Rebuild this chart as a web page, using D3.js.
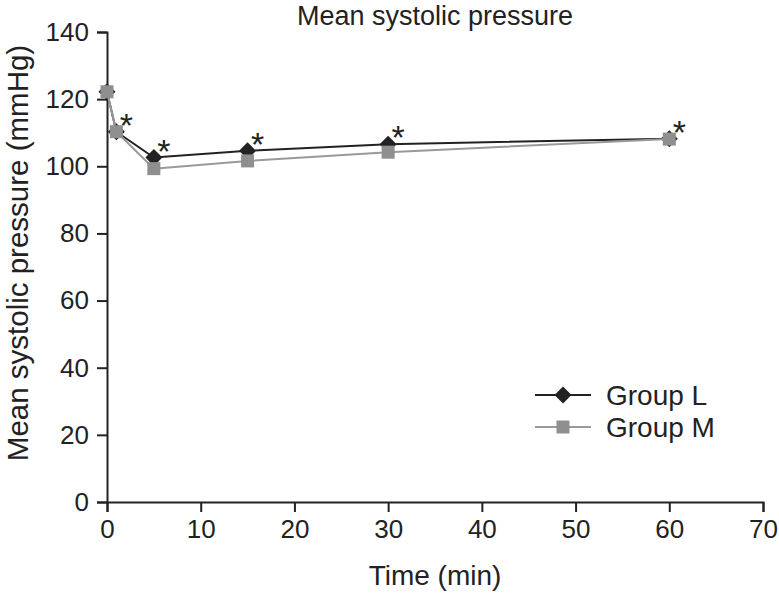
<!DOCTYPE html>
<html><head><meta charset="utf-8">
<script src="https://cdn.jsdelivr.net/npm/d3@7"></script>
<style>body{margin:0;background:#fff}text{font-family:"Liberation Sans",Arial,sans-serif;fill:#222}</style>
</head><body><svg id="c" width="779" height="594"></svg>
<script>
const times = [0, 1, 5, 15, 30, 60];
const groupL = [122.2, 110.3, 102.6, 104.6, 106.6, 108.2];
const groupM = [122.2, 110.3, 99.3, 101.6, 104.2, 108.1];
const starred = [1, 5, 15, 30, 60];
const xTicks = [0, 10, 20, 30, 40, 50, 60, 70];
const yTicks = [0, 20, 40, 60, 80, 100, 120, 140];
const seriesNames = ["Group L", "Group M"];

const svg = d3.select("#c");
const x = d3.scaleLinear().domain([0, 70]).range([107, 763]);
const y = d3.scaleLinear().domain([0, 140]).range([502, 32]);
const colL = "#222", colM = "#999";

// axes
const xa = svg.append("g").attr("transform", "translate(0,502)")
  .call(d3.axisBottom(x).tickValues(xTicks).tickSize(10).tickPadding(8).tickFormat(d3.format("d")));
const ya = svg.append("g").attr("transform", "translate(107,0)")
  .call(d3.axisLeft(y).tickValues(yTicks).tickSize(10).tickPadding(8).tickFormat(d3.format("d")));
[xa, ya].forEach(a => {
  a.select(".domain").attr("stroke", "#222").attr("stroke-width", 2);
  a.selectAll(".tick line").attr("stroke", "#222").attr("stroke-width", 2);
  a.selectAll(".tick text").attr("font-size", 26).attr("fill", "#222")
    .attr("font-family", '"Liberation Sans",Arial,sans-serif');
});

// title & labels
svg.append("text").attr("x", 435).attr("y", 25).attr("text-anchor", "middle")
  .attr("font-size", 27).text("Mean systolic pressure");
svg.append("text").attr("x", 435).attr("y", 585).attr("text-anchor", "middle")
  .attr("font-size", 28).text("Time (min)");
svg.append("text").attr("transform", "translate(28,253) rotate(-90)").attr("text-anchor", "middle")
  .attr("font-size", 29.5).text("Mean systolic pressure (mmHg)");

const line = d3.line().x(d => x(d[0])).y(d => y(d[1]));
const dataM = times.map((t, i) => [t, groupM[i]]);
const dataL = times.map((t, i) => [t, groupL[i]]);

const diamond = (cx, cy, r) => `M${cx},${cy - r}L${cx + r},${cy}L${cx},${cy + r}L${cx - r},${cy}Z`;

svg.append("path").datum(dataL).attr("d", line).attr("fill", "none").attr("stroke", colL).attr("stroke-width", 2);
svg.selectAll(".dl").data(dataL).enter().append("path")
  .attr("d", d => diamond(x(d[0]), y(d[1]), 8.5)).attr("fill", colL);

svg.append("path").datum(dataM).attr("d", line).attr("fill", "none").attr("stroke", colM).attr("stroke-width", 2);
svg.selectAll(".sm").data(dataM).enter().append("rect")
  .attr("x", d => x(d[0]) - 6.5).attr("y", d => y(d[1]) - 6.5)
  .attr("width", 13).attr("height", 13).attr("fill", "#8f8f8f");

// asterisks
svg.selectAll(".ast").data(starred).enter().append("text")
  .attr("x", t => x(t) + 10).attr("y", t => y(groupL[times.indexOf(t)]) + 5)
  .attr("text-anchor", "middle").attr("font-size", 34).text("*");

// legend
const leg = [{name: seriesNames[0], c: colL, ly: 395}, {name: seriesNames[1], c: colM, ly: 427}];
leg.forEach((l, i) => {
  svg.append("line").attr("x1", 535).attr("x2", 591).attr("y1", l.ly).attr("y2", l.ly)
    .attr("stroke", l.c).attr("stroke-width", 2);
  if (i === 0) svg.append("path").attr("d", diamond(563, l.ly, 8.5)).attr("fill", colL);
  else svg.append("rect").attr("x", 556.5).attr("y", l.ly - 6.5).attr("width", 13).attr("height", 13).attr("fill", "#8f8f8f");
  svg.append("text").attr("x", 606).attr("y", l.ly + 10).attr("font-size", 28).text(l.name);
});
</script></body></html>
